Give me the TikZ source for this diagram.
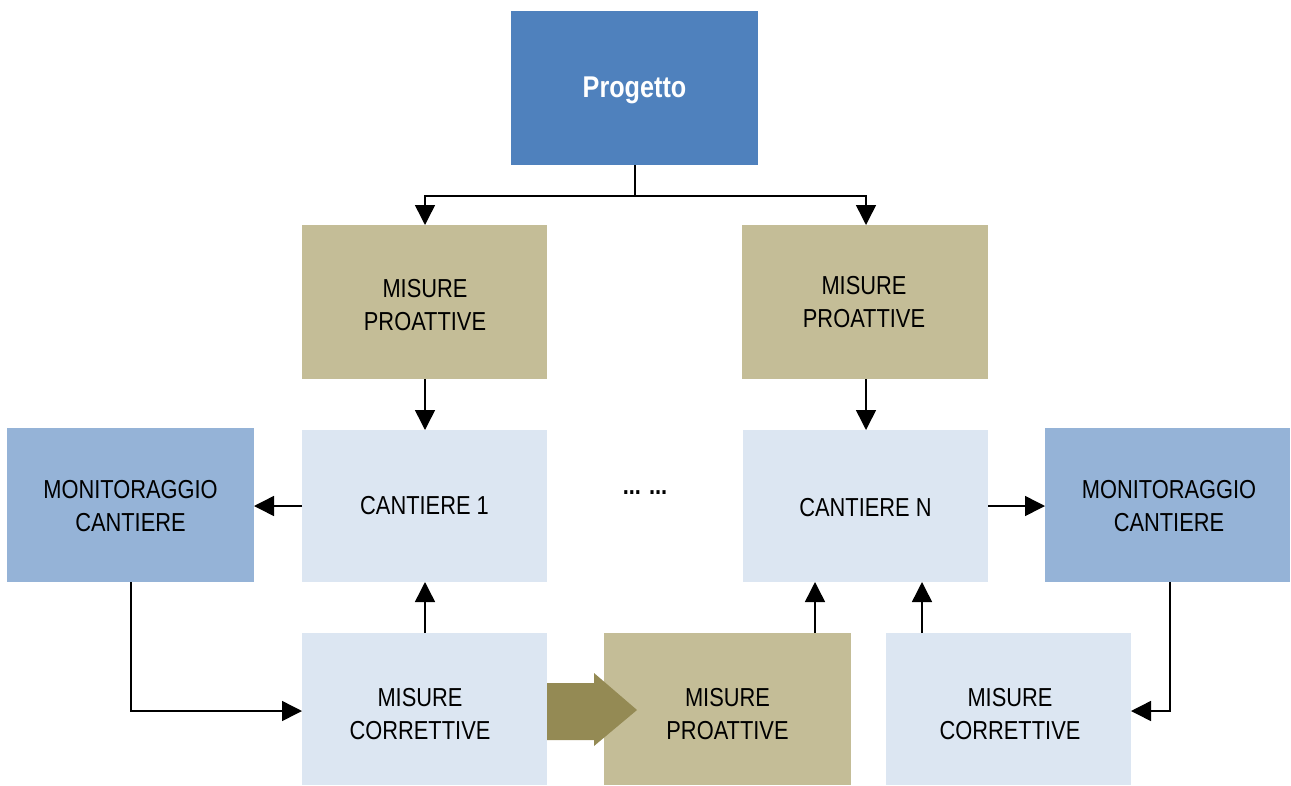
\documentclass[tikz,border=0pt]{standalone}
\usepackage{fontspec}
\setmainfont[FakeStretch=0.84]{Liberation Sans}
\usetikzlibrary{arrows.meta}
\definecolor{projblue}{RGB}{79,129,189}
\definecolor{tanbox}{RGB}{196,189,151}
\definecolor{monblue}{RGB}{149,179,215}
\definecolor{lightbox}{RGB}{220,230,242}
\definecolor{bigarrow}{RGB}{148,138,84}
\begin{document}
\begin{tikzpicture}[x=1pt,y=-1pt,
  box/.style={inner sep=0pt,align=center,font=\fontsize{26}{33}\selectfont},
  conn/.style={line width=1.5pt,-{Triangle[length=20pt,width=20pt]}}]
\useasboundingbox (0,0) rectangle (1291,785);
% boxes
\fill[projblue] (511,11) rectangle (758,165);
\node[box,text=white,font=\fontsize{30}{36}\selectfont\bfseries] (prog) at (634.5,90) {Progetto};
\fill[tanbox] (302,225) rectangle (547,379);
\node[box] (mp1) at (425,305) {MISURE\\PROATTIVE};
\fill[tanbox] (742,225) rectangle (988,379);
\node[box] (mp2) at (864,302) {MISURE\\PROATTIVE};
\fill[monblue] (7,428) rectangle (254,582);
\node[box] (ml) at (130.5,506) {MONITORAGGIO\\CANTIERE};
\fill[lightbox] (302,430) rectangle (547,582);
\node[box] (c1) at (424.5,506) {CANTIERE 1};
\fill[lightbox] (743,430) rectangle (988,582);
\node[box] (cn) at (865.5,508) {CANTIERE N};
\fill[monblue] (1045,428) rectangle (1290,582);
\node[box] (mr) at (1169,506) {MONITORAGGIO\\CANTIERE};
\fill[lightbox] (302,633) rectangle (547,785);
\node[box] (mc1) at (420,714) {MISURE\\CORRETTIVE};
\fill[tanbox] (604,633) rectangle (851,785);
\node[box] (mp3) at (727.5,714) {MISURE\\PROATTIVE};
\fill[lightbox] (886,633) rectangle (1131,785);
\node[box] (mc2) at (1010,714) {MISURE\\CORRETTIVE};
\node[box] (dots) at (645,493) {\textbf{...} \textbf{...}};
% coordinates
\coordinate (pb) at (635,165);
\coordinate (pj) at (635,196);
\coordinate (mp1t) at (425,225);
\coordinate (mp2t) at (866,225);
\coordinate (mp1b) at (425,379);
\coordinate (c1t) at (425,430);
\coordinate (mp2b) at (866,379);
\coordinate (cnt) at (866,430);
\coordinate (c1l) at (302,506);
\coordinate (mlr) at (254,506);
\coordinate (cnr) at (988,506);
\coordinate (mrl) at (1045,506);
\coordinate (mlb) at (131,582);
\coordinate (mc1l) at (302,711);
\coordinate (mrb) at (1170,582);
\coordinate (mc2r) at (1131,711);
\coordinate (mc1t) at (425,633);
\coordinate (c1b) at (425,582);
\coordinate (mp3t) at (815,633);
\coordinate (cnb1) at (815,582);
\coordinate (mc2t) at (922,633);
\coordinate (cnb2) at (922,582);
% connectors
\draw[line width=1.5pt] (pb) -- (pj);
\draw[conn] (pj) -| (mp1t);
\draw[conn] (pj) -| (mp2t);
\draw[conn] (mp1b) -- (c1t);
\draw[conn] (mp2b) -- (cnt);
\draw[conn] (c1l) -- (mlr);
\draw[conn] (cnr) -- (mrl);
\draw[conn] (mlb) |- (mc1l);
\draw[conn] (mrb) |- (mc2r);
\draw[conn] (mc1t) -- (c1b);
\draw[conn] (mp3t) -- (cnb1);
\draw[conn] (mc2t) -- (cnb2);
% big arrow
\fill[bigarrow] (547,683) -- (594,683) -- (594,673) -- (637,710) -- (594,746) -- (594,740) -- (547,740) -- cycle;
\end{tikzpicture}
\end{document}
